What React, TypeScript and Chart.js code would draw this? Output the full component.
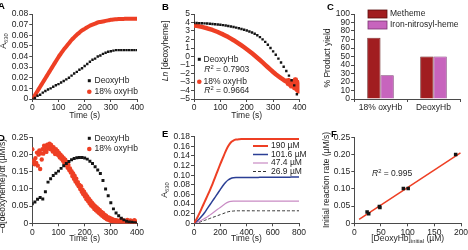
import React, { useEffect, useRef } from 'react';
import { Chart, registerables } from 'chart.js';
Chart.register(...registerables);

const FONT = "'Liberation Sans', Arial, Helvetica, sans-serif";
const INK = '#1e1e1e';
const AXIS = '#4a4a4a';
const RED = '#ee3f24';
const BLACK = '#141414';
const W = 468;
const H = 250;
const Y_W = 30;
const X_H = 18;
const FS = 8.5;

// ---------------- Panel A ----------------
const timeA = [0, 10, 20, 30, 40, 50, 60, 70, 80, 90, 100, 110, 120, 130, 140, 150, 160, 170, 180, 190, 200, 210, 220, 230, 240, 250, 260, 270, 280, 290, 300, 310, 320, 330, 340, 350, 360, 370, 380, 390, 400];
const deoxyA = [0, 0.001, 0.003, 0.004, 0.006, 0.0075, 0.009, 0.01, 0.0115, 0.013, 0.014, 0.0155, 0.017, 0.0185, 0.02, 0.022, 0.024, 0.0255, 0.0275, 0.029, 0.031, 0.033, 0.035, 0.037, 0.038, 0.04, 0.041, 0.0425, 0.0435, 0.0445, 0.045, 0.0455, 0.046, 0.046, 0.046, 0.046, 0.046, 0.046, 0.046, 0.046, 0.046];
const oxyA = [0, 0.0035, 0.0075, 0.0115, 0.0155, 0.0195, 0.0235, 0.0275, 0.0315, 0.0355, 0.0395, 0.043, 0.0465, 0.0495, 0.0525, 0.0555, 0.058, 0.0605, 0.0625, 0.0645, 0.066, 0.0675, 0.069, 0.07, 0.071, 0.072, 0.0725, 0.073, 0.0735, 0.074, 0.0745, 0.0748, 0.075, 0.0752, 0.0753, 0.0754, 0.0755, 0.0755, 0.0755, 0.0755, 0.0755];
const xTicksA = [0, 100, 200, 300, 400];
const yTicksA = [0, 0.01, 0.02, 0.03, 0.04, 0.05, 0.06, 0.07, 0.08];

// ---------------- Panel B ----------------
const timeB = [0, 10, 20, 30, 40, 50, 60, 70, 80, 90, 100, 110, 120, 130, 140, 150, 160, 170, 180, 190, 200, 210, 220, 230, 240, 250, 260, 270, 280, 290, 300, 310, 320, 330, 340, 350, 360, 370, 380, 390];
const lnDeoxyB = [3.95, 3.94, 3.93, 3.92, 3.9, 3.88, 3.86, 3.83, 3.8, 3.77, 3.73, 3.69, 3.64, 3.59, 3.53, 3.47, 3.4, 3.32, 3.23, 3.14, 3.05, 2.95, 2.83, 2.68, 2.5, 2.28, 2.02, 1.72, 1.38, 1.0, 0.6, 0.2, -0.25, -0.7, -1.2, -1.7, -2.25, -2.8, -3.4, -4.45];
const lnOxyB: [number, number][] = [[0, 3.65], [10, 3.6], [20, 3.55], [30, 3.48], [40, 3.4], [50, 3.32], [60, 3.22], [70, 3.12], [80, 3.0], [90, 2.88], [100, 2.74], [110, 2.6], [120, 2.44], [130, 2.28], [140, 2.1], [150, 1.92], [160, 1.72], [170, 1.52], [180, 1.31], [190, 1.09], [200, 0.86], [210, 0.62], [220, 0.37], [230, 0.11], [240, -0.15], [250, -0.42], [260, -0.7], [270, -0.98], [280, -1.26], [290, -1.54], [300, -1.82], [310, -2.08], [320, -2.32], [330, -2.55], [340, -2.76], [350, -2.95], [353, -2.85], [356, -3.2], [359, -2.8], [362, -3.3], [365, -3.0], [368, -3.5], [371, -2.9], [374, -3.4], [377, -3.1], [380, -3.7], [383, -2.7], [386, -3.5], [389, -3.9], [392, -3.0], [395, -4.1], [398, -3.3], [400, -3.8]];
const xTicksB = [0, 100, 200, 300, 400];
const yTicksB = [-5, -4, -3, -2, -1, 0, 1, 2, 3, 4, 5];
const r2B = ['0.7903', '0.9664'];

// ---------------- Panel C ----------------
const groupsC = ['18% oxyHb', 'DeoxyHb'];
const methemeC = [72, 50];
const nitrosylC = [28, 50];
const seriesC = ['Metheme', 'Iron-nitrosyl-heme'];
const yTicksC = [0, 10, 20, 30, 40, 50, 60, 70, 80, 90, 100];

// ---------------- Panel D ----------------
const timeD = [0, 10, 20, 30, 40, 50, 60, 70, 80, 90, 100, 110, 120, 130, 140, 150, 160, 170, 180, 190, 200, 210, 220, 230, 240, 250, 260, 270, 280, 290, 300, 310, 320, 330, 340, 350, 360, 370, 380, 390, 400];
const rateDeoxyD = [0.057, 0.062, 0.07, 0.075, 0.071, 0.092, 0.12, 0.13, 0.139, 0.146, 0.152, 0.16, 0.168, 0.174, 0.18, 0.185, 0.189, 0.191, 0.192, 0.192, 0.19, 0.187, 0.181, 0.174, 0.165, 0.155, 0.145, 0.125, 0.1, 0.08, 0.06, 0.042, 0.03, 0.022, 0.015, 0.01, 0.006, 0.004, 0.003, 0.002, 0.001];
const rateOxyD: [number, number][] = [
  [0, 0.216], [3, 0.178], [6, 0.183], [9, 0.172], [12, 0.19], [15, 0.176], [18, 0.206], [21, 0.168], [24, 0.2], [27, 0.212],
  [30, 0.158], [33, 0.204], [36, 0.186], [39, 0.216], [42, 0.203], [45, 0.226], [48, 0.212], [51, 0.222], [54, 0.208], [57, 0.229],
  [60, 0.218], [63, 0.226], [66, 0.232], [69, 0.216], [72, 0.228], [75, 0.221], [78, 0.209], [81, 0.222], [84, 0.214], [87, 0.202],
  [90, 0.216], [93, 0.206], [96, 0.211], [99, 0.198], [102, 0.205], [105, 0.192], [108, 0.2], [111, 0.188], [114, 0.195], [117, 0.182],
  [120, 0.19], [123, 0.175], [126, 0.185], [129, 0.17], [132, 0.178], [135, 0.162], [138, 0.17], [141, 0.155], [144, 0.16], [147, 0.148],
  [150, 0.152], [153, 0.138], [156, 0.145], [159, 0.13], [162, 0.138], [165, 0.122], [168, 0.13], [171, 0.115], [174, 0.12], [177, 0.108],
  [180, 0.112], [183, 0.1], [186, 0.108], [189, 0.092], [192, 0.098], [195, 0.085], [198, 0.092], [201, 0.078], [204, 0.085], [207, 0.07],
  [210, 0.078], [213, 0.065], [216, 0.072], [219, 0.058], [222, 0.066], [225, 0.052], [228, 0.06], [231, 0.048], [234, 0.055], [237, 0.042],
  [240, 0.05], [243, 0.038], [246, 0.046], [249, 0.034], [252, 0.042], [255, 0.03], [258, 0.038], [261, 0.026], [264, 0.033], [267, 0.022],
  [270, 0.03], [273, 0.018], [276, 0.025], [279, 0.015], [282, 0.022], [285, 0.012], [288, 0.018], [291, 0.01], [294, 0.016], [297, 0.008],
  [300, 0.014], [303, 0.006], [306, 0.012], [309, 0.005], [312, 0.01], [315, 0.004], [318, 0.009], [321, 0.003], [324, 0.008], [327, 0.002],
  [330, 0.007], [333, 0.001], [336, 0.006], [339, 0.012], [342, 0.004], [345, 0.002], [348, 0.008], [351, 0.003], [354, 0.0], [357, 0.006],
  [360, 0.002], [363, 0.01], [366, 0.004], [369, 0.0], [372, 0.005], [375, 0.008], [378, 0.002], [381, 0.006], [384, 0.0], [387, 0.004],
  [390, 0.009], [393, 0.002], [396, 0.005], [399, 0.001],
];
const xTicksD = [0, 100, 200, 300, 400];
const yTicksD = [0, 0.05, 0.1, 0.15, 0.2, 0.25];

// ---------------- Panel E ----------------
const timeE = [0, 20, 40, 60, 80, 100, 120, 140, 160, 180, 200, 220, 240, 260, 280, 300, 320, 340, 360, 380, 400, 420, 440, 460, 480, 500, 520, 540, 560, 580, 600, 620, 640, 660, 680, 700, 720, 740, 760, 780, 800];
const abs190E = [0, 0.009, 0.02, 0.032, 0.044, 0.056, 0.068, 0.081, 0.095, 0.109, 0.123, 0.136, 0.149, 0.16, 0.168, 0.172, 0.174, 0.1745, 0.175, 0.175, 0.175, 0.175, 0.175, 0.175, 0.175, 0.175, 0.175, 0.175, 0.175, 0.175, 0.175, 0.175, 0.175, 0.175, 0.175, 0.175, 0.175, 0.175, 0.175, 0.175, 0.175];
const abs101E = [0, 0.004, 0.009, 0.015, 0.022, 0.03, 0.038, 0.046, 0.054, 0.062, 0.07, 0.078, 0.085, 0.09, 0.093, 0.0945, 0.095, 0.095, 0.095, 0.095, 0.095, 0.095, 0.0952, 0.0953, 0.0954, 0.0955, 0.0955, 0.0956, 0.0956, 0.0957, 0.0957, 0.0958, 0.0958, 0.0958, 0.0959, 0.0959, 0.0959, 0.096, 0.096, 0.096, 0.096];
const abs47E = [0, 0.002, 0.004, 0.007, 0.01, 0.013, 0.017, 0.021, 0.025, 0.029, 0.033, 0.037, 0.041, 0.044, 0.0455, 0.046, 0.046, 0.046, 0.046, 0.046, 0.046, 0.046, 0.046, 0.046, 0.046, 0.046, 0.046, 0.046, 0.046, 0.046, 0.046, 0.046, 0.046, 0.046, 0.046, 0.046, 0.046, 0.046, 0.046, 0.046, 0.046];
const abs27E = [0, 0.001, 0.002, 0.004, 0.006, 0.008, 0.01, 0.012, 0.014, 0.016, 0.018, 0.02, 0.022, 0.024, 0.025, 0.0255, 0.026, 0.026, 0.026, 0.026, 0.026, 0.026, 0.026, 0.026, 0.026, 0.026, 0.026, 0.026, 0.026, 0.026, 0.026, 0.026, 0.026, 0.026, 0.026, 0.026, 0.026, 0.026, 0.026, 0.026, 0.026];
const concLabelsE = ['190 µM', '101.6 µM', '47.4 µM', '26.9 µM'];
const xTicksE = [0, 200, 400, 600, 800];
const yTicksE = [0, 0.02, 0.04, 0.06, 0.08, 0.1, 0.12, 0.14, 0.16, 0.18];

// ---------------- Panel F ----------------
const concF = [24, 27, 47, 48, 92, 101, 190];
const rateF = [0.033, 0.028, 0.049, 0.046, 0.101, 0.101, 0.2];
const fitXF = [9, 199];
const fitYF = [0.0112, 0.205];
const xTicksF = [0, 50, 100, 150, 200];
const yTicksF = [0, 0.05, 0.1, 0.15, 0.2, 0.25];
const r2F = '0.995';

// ---------------- helpers ----------------
type Rect = { l: number; r: number; t: number; b: number };
type Seg = string | { t: string; sub?: boolean; sup?: boolean; italic?: boolean };

const pts = (xs: number[], ys: number[]) => xs.map((x, i) => ({ x, y: ys[i] }));
const pairPts = (p: [number, number][]) => p.map(([x, y]) => ({ x, y }));
const fmtInt = (v: number) => (v < 0 ? '–' + Math.abs(v) : String(v));
const fmt2 = (v: number) => (v === 0 ? '0' : v.toFixed(2));

function tickFont() {
  return { family: FONT, size: FS };
}

function linAxis(min: number, max: number, ticks: number[], fmt: (v: number) => string, horizontal: boolean) {
  return {
    type: 'linear',
    min,
    max,
    grid: { display: true, drawOnChartArea: false, drawTicks: true, tickLength: 3, color: AXIS, lineWidth: 1 },
    border: { display: true, color: AXIS, width: 1 },
    ticks: {
      autoSkip: false,
      maxRotation: 0,
      minRotation: 0,
      padding: 1,
      color: INK,
      font: tickFont(),
      callback: (v: any) => fmt(Number(v)),
    },
    afterBuildTicks: (s: any) => {
      s.ticks = ticks.map((v) => ({ value: v }));
    },
    afterFit: (s: any) => {
      if (horizontal) s.height = X_H;
      else s.width = Y_W;
      s.paddingLeft = 0;
      s.paddingRight = 0;
      s.paddingTop = 0;
      s.paddingBottom = 0;
    },
  };
}

function baseOptions(rect: Rect, scales: any) {
  return {
    responsive: false,
    animation: false,
    events: [],
    layout: { padding: { left: rect.l - Y_W, right: W - rect.r, top: rect.t, bottom: H - rect.b - X_H } },
    plugins: { legend: { display: false }, tooltip: { enabled: false } },
    scales,
  };
}

function segFont(s: Seg, size: number, bold: boolean) {
  const o = typeof s === 'string' ? {} : s;
  const small = (o as any).sub || (o as any).sup;
  return `${(o as any).italic ? 'italic ' : ''}${bold ? 'bold ' : ''}${small ? size * 0.68 : size}px ${FONT}`;
}

function txt(
  ctx: CanvasRenderingContext2D,
  segs: Seg[],
  x: number,
  y: number,
  opt: { align?: 'left' | 'center'; rot?: boolean; size?: number; bold?: boolean; color?: string } = {}
) {
  const size = opt.size ?? FS;
  ctx.save();
  ctx.translate(x, y);
  if (opt.rot) ctx.rotate(-Math.PI / 2);
  let total = 0;
  for (const s of segs) {
    ctx.font = segFont(s, size, !!opt.bold);
    total += ctx.measureText(typeof s === 'string' ? s : s.t).width;
  }
  let cx = opt.align === 'center' ? -total / 2 : 0;
  ctx.textBaseline = 'middle';
  ctx.textAlign = 'left';
  ctx.fillStyle = opt.color ?? INK;
  for (const s of segs) {
    ctx.font = segFont(s, size, !!opt.bold);
    const t = typeof s === 'string' ? s : s.t;
    const dy = typeof s === 'string' ? 0 : s.sub ? size * 0.32 : s.sup ? -size * 0.32 : 0;
    ctx.fillText(t, cx, dy);
    cx += ctx.measureText(t).width;
  }
  ctx.restore();
}

function square(ctx: CanvasRenderingContext2D, x: number, y: number, s: number, c: string) {
  ctx.fillStyle = c;
  ctx.fillRect(x - s / 2, y - s / 2, s, s);
}
function dot(ctx: CanvasRenderingContext2D, x: number, y: number, r: number, c: string) {
  ctx.fillStyle = c;
  ctx.beginPath();
  ctx.arc(x, y, r, 0, Math.PI * 2);
  ctx.fill();
}

function extras(draw: (ctx: CanvasRenderingContext2D) => void) {
  return {
    id: 'extras',
    afterDraw(chart: any) {
      const ctx = chart.ctx as CanvasRenderingContext2D;
      ctx.save();
      draw(ctx);
      ctx.restore();
    },
  };
}

const letter = (ctx: CanvasRenderingContext2D, s: string, x: number, y: number) =>
  txt(ctx, [s], x, y, { bold: true, size: 9.5, color: '#000' });

// ---------------- panels ----------------
const rectA: Rect = { l: 32.3, r: 137, t: 14, b: 99 };
function makeA(c: HTMLCanvasElement) {
  return new Chart(c, {
    type: 'scatter',
    data: {
      datasets: [
        { data: pts(timeA, deoxyA), pointStyle: 'rect', pointRadius: 1.7, backgroundColor: BLACK, borderWidth: 0, showLine: false },
        { data: pts(timeA, oxyA), showLine: true, borderColor: RED, borderWidth: 4, pointRadius: 0, borderCapStyle: 'round', tension: 0.2 },
      ],
    } as any,
    options: baseOptions(rectA, {
      x: linAxis(0, 400, xTicksA, fmtInt, true),
      y: linAxis(0, 0.08, yTicksA, fmt2, false),
    }) as any,
    plugins: [
      extras((ctx) => {
        letter(ctx, 'A', -2, 6);
        txt(ctx, ['A', { t: '630', sub: true }], 3.5, 41, { rot: true, align: 'center' });
        txt(ctx, ['Time (s)'], (rectA.l + rectA.r) / 2, 116, { align: 'center' });
        square(ctx, 89.3, 80.7, 3, BLACK);
        txt(ctx, ['DeoxyHb'], 94.5, 80.7);
        dot(ctx, 89.3, 91.7, 2.3, RED);
        txt(ctx, ['18% oxyHb'], 94.5, 91.7);
      }),
    ],
  });
}

const rectB: Rect = { l: 194, r: 299.5, t: 14, b: 99 };
function makeB(c: HTMLCanvasElement) {
  return new Chart(c, {
    type: 'scatter',
    data: {
      datasets: [
        { data: pts(timeB, lnDeoxyB), pointStyle: 'rect', pointRadius: 1.7, backgroundColor: BLACK, borderWidth: 0, showLine: false },
        { data: pairPts(lnOxyB), showLine: true, borderColor: RED, borderWidth: 4.5, pointRadius: 0, borderCapStyle: 'round', borderJoinStyle: 'round', tension: 0 },
      ],
    } as any,
    options: baseOptions(rectB, {
      x: linAxis(0, 400, xTicksB, fmtInt, true),
      y: linAxis(-5, 5, yTicksB, fmtInt, false),
    }) as any,
    plugins: [
      extras((ctx) => {
        letter(ctx, 'B', 162, 7);
        txt(ctx, [{ t: 'Ln', italic: true }, ' [deoxyheme]'], 166, 51, { rot: true, align: 'center' });
        txt(ctx, ['Time (s)'], (rectB.l + rectB.r) / 2, 116, { align: 'center' });
        square(ctx, 199.3, 59.3, 3, BLACK);
        txt(ctx, ['DeoxyHb'], 203.5, 59.3);
        txt(ctx, [{ t: 'R', italic: true }, { t: '2', sup: true }, ' = ' + r2B[0]], 204.3, 70);
        dot(ctx, 199.3, 81.7, 2.3, RED);
        txt(ctx, ['18% oxyHb'], 203.5, 81.7);
        txt(ctx, [{ t: 'R', italic: true }, { t: '2', sup: true }, ' = ' + r2B[1]], 204.3, 90.7);
      }),
    ],
  });
}

const rectC: Rect = { l: 354, r: 460, t: 14, b: 99 };
const METHEME = '#a11d20';
const METHEME_B = '#5b0d0e';
const NITROSYL = '#c764bd';
const NITROSYL_B = '#7a3470';
function makeC(c: HTMLCanvasElement) {
  return new Chart(c, {
    type: 'bar',
    data: {
      labels: groupsC,
      datasets: [
        { label: seriesC[0], data: methemeC, backgroundColor: METHEME, borderColor: METHEME_B, borderWidth: 0.8, categoryPercentage: 0.5, barPercentage: 1 },
        { label: seriesC[1], data: nitrosylC, backgroundColor: NITROSYL, borderColor: NITROSYL_B, borderWidth: 0.8, categoryPercentage: 0.5, barPercentage: 1 },
      ],
    } as any,
    options: baseOptions(rectC, {
      x: {
        type: 'category',
        grid: { display: true, drawOnChartArea: false, drawTicks: true, tickLength: 3, color: AXIS, lineWidth: 1, offset: true },
        border: { display: true, color: AXIS, width: 1 },
        ticks: { padding: 1, color: INK, font: tickFont(), maxRotation: 0, autoSkip: false },
        afterFit: (s: any) => {
          s.height = X_H;
          s.paddingLeft = 0;
          s.paddingRight = 0;
        },
      },
      y: linAxis(0, 100, yTicksC, fmtInt, false),
    }) as any,
    plugins: [
      extras((ctx) => {
        letter(ctx, 'C', 327, 7.5);
        txt(ctx, ['% Product yield'], 328, 58, { rot: true, align: 'center' });
        ctx.lineWidth = 0.8;
        ctx.fillStyle = METHEME;
        ctx.fillRect(368, 10, 19, 8);
        ctx.strokeStyle = METHEME_B;
        ctx.strokeRect(368, 10, 19, 8);
        ctx.fillStyle = NITROSYL;
        ctx.fillRect(368, 21, 19, 8);
        ctx.strokeStyle = NITROSYL_B;
        ctx.strokeRect(368, 21, 19, 8);
        txt(ctx, [seriesC[0]], 390, 14);
        txt(ctx, [seriesC[1]], 390, 25);
      }),
    ],
  });
}

const rectD: Rect = { l: 32.3, r: 137, t: 137.5, b: 223.3 };
function makeD(c: HTMLCanvasElement) {
  return new Chart(c, {
    type: 'scatter',
    data: {
      datasets: [
        { data: pts(timeD, rateDeoxyD), pointStyle: 'rect', pointRadius: 2.1, backgroundColor: BLACK, borderWidth: 0, showLine: false },
        { data: pairPts(rateOxyD), pointStyle: 'circle', pointRadius: 2.2, backgroundColor: RED, borderWidth: 0, showLine: false },
      ],
    } as any,
    options: baseOptions(rectD, {
      x: linAxis(0, 400, xTicksD, fmtInt, true),
      y: linAxis(0, 0.25, yTicksD, fmt2, false),
    }) as any,
    plugins: [
      extras((ctx) => {
        letter(ctx, 'D', -2, 138.5);
        txt(ctx, ['–d[deoxyheme]/dt (µM/s)'], 2.5, 186, { rot: true, align: 'center' });
        txt(ctx, ['Time (s)'], (rectD.l + rectD.r) / 2, 239, { align: 'center' });
        square(ctx, 89.3, 138.3, 3, BLACK);
        txt(ctx, ['DeoxyHb'], 94.5, 138.3);
        dot(ctx, 89.3, 149, 2.3, RED);
        txt(ctx, ['18% oxyHb'], 94.5, 149);
      }),
    ],
  });
}

const rectE: Rect = { l: 194, r: 299, t: 136.7, b: 223.3 };
const BLUE = '#2b3f95';
const PINK = '#c98bc4';
function makeE(c: HTMLCanvasElement) {
  const line = (ys: number[], color: string, w: number, dash: number[] = []) => ({
    data: pts(timeE, ys),
    showLine: true,
    borderColor: color,
    borderWidth: w,
    borderDash: dash,
    pointRadius: 0,
    tension: 0.2,
  });
  return new Chart(c, {
    type: 'scatter',
    data: {
      datasets: [line(abs190E, RED, 2), line(abs101E, BLUE, 1.5), line(abs47E, PINK, 1.2), line(abs27E, '#333', 1, [3, 2])],
    } as any,
    options: baseOptions(rectE, {
      x: linAxis(0, 800, xTicksE, fmtInt, true),
      y: linAxis(0, 0.18, yTicksE, fmt2, false),
    }) as any,
    plugins: [
      extras((ctx) => {
        letter(ctx, 'E', 162, 134.5);
        txt(ctx, ['A', { t: '630', sub: true }], 165, 190, { rot: true, align: 'center' });
        txt(ctx, ['Time (s)'], (rectE.l + rectE.r) / 2, 239, { align: 'center' });
        const rows = [146, 154.5, 163, 171.5];
        const styles: [string, number, number[]][] = [
          [RED, 2, []],
          [BLUE, 1.5, []],
          [PINK, 1.2, []],
          ['#333', 1, [3, 2]],
        ];
        rows.forEach((y, i) => {
          ctx.save();
          ctx.strokeStyle = styles[i][0];
          ctx.lineWidth = styles[i][1];
          ctx.setLineDash(styles[i][2]);
          ctx.beginPath();
          ctx.moveTo(253, y);
          ctx.lineTo(268, y);
          ctx.stroke();
          ctx.restore();
          txt(ctx, [concLabelsE[i]], 271, y);
        });
      }),
    ],
  });
}

const rectF: Rect = { l: 354.3, r: 461, t: 137.3, b: 223.3 };
function makeF(c: HTMLCanvasElement) {
  return new Chart(c, {
    type: 'scatter',
    data: {
      datasets: [
        { data: pts(concF, rateF), pointStyle: 'rect', pointRadius: 2.5, backgroundColor: BLACK, borderWidth: 0, showLine: false },
        { data: pts(fitXF, fitYF), showLine: true, borderColor: RED, borderWidth: 1.5, pointRadius: 0 },
      ],
    } as any,
    options: baseOptions(rectF, {
      x: linAxis(0, 200, xTicksF, fmtInt, true),
      y: linAxis(0, 0.25, yTicksF, fmt2, false),
    }) as any,
    plugins: [
      extras((ctx) => {
        letter(ctx, 'F', 331, 134.5);
        txt(ctx, ['Initial reaction rate (µM/s)'], 327, 180, { rot: true, align: 'center' });
        txt(ctx, ['[DeoxyHb]', { t: 'initial', sub: true }, ' (µM)'], (rectF.l + rectF.r) / 2, 239, { align: 'center' });
        txt(ctx, [{ t: 'R', italic: true }, { t: '2', sup: true }, ' = ' + r2F], 372, 174);
      }),
    ],
  });
}

function Panel({ make }: { make: (c: HTMLCanvasElement) => Chart }) {
  const ref = useRef<HTMLCanvasElement>(null);
  useEffect(() => {
    const ch = make(ref.current!);
    return () => ch.destroy();
  }, [make]);
  return <canvas ref={ref} width={W} height={H} style={{ position: 'absolute', left: 0, top: 0, width: W, height: H }} />;
}

export default function App() {
  useEffect(() => {
    document.body.style.margin = '0';
  }, []);
  return (
    <div style={{ position: 'relative', width: W, height: H, overflow: 'hidden', background: '#fff' }}>
      <style>{'body{margin:0;}'}</style>
      <Panel make={makeA} />
      <Panel make={makeB} />
      <Panel make={makeC} />
      <Panel make={makeD} />
      <Panel make={makeE} />
      <Panel make={makeF} />
    </div>
  );
}
